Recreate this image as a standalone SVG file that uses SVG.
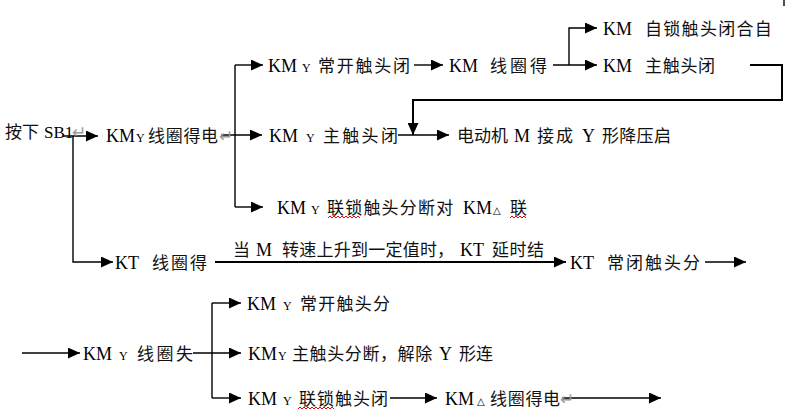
<svg xmlns="http://www.w3.org/2000/svg" width="792" height="420" viewBox="0 0 792 420">
<style>
.t{font-family:"Liberation Serif","Noto Sans CJK SC",serif;font-size:18px;fill:#000}
.c{font-family:"Noto Sans CJK SC",sans-serif;font-size:17px;fill:#111}
.s{font-size:12px}
.d{font-family:"DejaVu Sans",sans-serif;font-size:10px}
.p{font-family:"DejaVu Sans","Noto Sans CJK SC",sans-serif;font-size:17px;fill:#999}
.ln{stroke:#000;stroke-width:1.4;fill:none;marker-end:url(#ah)}
.lp{stroke:#000;stroke-width:1.4;fill:none}
.th{stroke-width:2}
.wv{stroke:#e00;stroke-width:1;fill:none}
</style>
<defs>
<marker id="ah" markerUnits="userSpaceOnUse" markerWidth="13" markerHeight="11" refX="12" refY="5.5" orient="auto"><path d="M0,0 L12,5.5 L0,11 z" fill="#000"/></marker>
</defs>
<rect width="792" height="420" fill="#fff"/>
<g id="connectors">
<path class="ln" d="M63,136 H98"/>
<path class="ln" d="M73,136 V262 H113"/>
<path class="ln" d="M221,135 H262"/>
<path class="lp" d="M235,65 V207"/>
<path class="ln" d="M235,65 H263"/>
<path class="ln" d="M235,207 H263"/>
<path class="ln" d="M414,65 H443"/>
<path class="ln" d="M553,65 H597"/>
<path class="ln" d="M569,65 V28 H597"/>
<path class="ln th" d="M750,65 H782 V100 H413 V135"/>
<path class="ln" d="M398,135 H449"/>
<path class="ln th" d="M215,262 H566"/>
<path class="ln" d="M705,262 H746"/>
<path class="ln" d="M22,353 H80"/>
<path class="ln" d="M193,353 H241"/>
<path class="lp" d="M212,303 V398"/>
<path class="ln" d="M212,303 H241"/>
<path class="ln" d="M212,398 H241"/>
<path class="ln" d="M390,398 H437"/>
<path class="ln" d="M562,398 H661"/>
<path class="lp" d="M784,0 V6"/>
</g>
<g id="n-sb1"><text class="t" y="138"><tspan x="5" class="c">按下</tspan><tspan x="44" style="font-size:17px">SB1</tspan><tspan x="72" class="p">↵</tspan></text></g>
<g id="n-kmy"><text class="t" y="142"><tspan x="106">KM</tspan><tspan x="136" class="s">Y</tspan><tspan x="148" class="c" letter-spacing="0.7">线圈得电</tspan><tspan x="219" class="p">↵</tspan></text></g>
<g id="n-kmy-no"><text class="t" y="72"><tspan x="268">KM</tspan><tspan x="302" class="s">Y</tspan><tspan x="318" class="c" letter-spacing="1.75">常开触头闭</tspan></text></g>
<g id="n-km-coil"><text class="t" y="72"><tspan x="449">KM</tspan><tspan x="490" class="c" letter-spacing="3">线圈得</tspan></text></g>
<g id="n-km-self"><text class="t" y="35"><tspan x="603">KM</tspan><tspan x="645" class="c" letter-spacing="1.3">自锁触头闭合自</tspan></text></g>
<g id="n-km-main"><text class="t" y="72"><tspan x="603">KM</tspan><tspan x="645" class="c" letter-spacing="0.7">主触头闭</tspan></text></g>
<g id="n-kmy-main"><text class="t" y="142"><tspan x="269">KM</tspan><tspan x="306" class="s">Y</tspan><tspan x="323" class="c" letter-spacing="2.3">主触头闭</tspan></text></g>
<g id="n-motor"><text class="t" y="142"><tspan x="457" class="c">电动机</tspan><tspan x="514">M</tspan><tspan x="537" class="c" letter-spacing="2">接成</tspan><tspan x="582">Y</tspan><tspan x="602" class="c" letter-spacing="0.3">形降压启</tspan></text></g>
<g id="n-kmy-lock"><text class="t" y="214"><tspan x="277">KM</tspan><tspan x="311" class="s">Y</tspan><tspan x="327" class="c" letter-spacing="1.2">联锁触头分断对</tspan><tspan x="463">KM</tspan><tspan x="493" class="d">△</tspan><tspan x="510" class="c">联</tspan></text>
<path class="wv" d="M328,218 l2,-2 l2,2 l2,-2 l2,2 l2,-2 l2,2 l2,-2 l2,2 l2,-2 l2,2 l2,-2 l2,2 l2,-2 l2,2 l2,-2 l2,2"/>
<path class="wv" d="M510,218 l2,-2 l2,2 l2,-2 l2,2 l2,-2 l2,2 l2,-2 l2,2"/></g>
<g id="n-kt"><text class="t" y="269"><tspan x="115">KT</tspan><tspan x="152" class="c" letter-spacing="2">线圈得</tspan></text></g>
<g id="lbl-kt"><text class="t" y="256"><tspan x="233" class="c">当</tspan><tspan x="256">M</tspan><tspan x="282" class="c" letter-spacing="0.25">转速上升到一定值时</tspan><tspan x="437" class="c">，</tspan><tspan x="460">KT</tspan><tspan x="492" class="c" letter-spacing="0.5">延时结</tspan></text></g>
<g id="n-kt-nc"><text class="t" y="269"><tspan x="570">KT</tspan><tspan x="607" class="c" letter-spacing="2">常闭触头分</tspan></text></g>
<g id="n-kmy-no2"><text class="t" y="310"><tspan x="247">KM</tspan><tspan x="283" class="s">Y</tspan><tspan x="300" class="c" letter-spacing="1.25">常开触头分</tspan></text></g>
<g id="n-kmy-off"><text class="t" y="360"><tspan x="83">KM</tspan><tspan x="119" class="s">Y</tspan><tspan x="137" class="c" letter-spacing="2.5">线圈失</tspan></text></g>
<g id="n-kmy-main2"><text class="t" y="360"><tspan x="248">KM</tspan><tspan x="278" class="s">Y</tspan><tspan x="292" class="c" letter-spacing="0.6">主触头分断，解除</tspan><tspan x="439">Y</tspan><tspan x="459" class="c">形连</tspan></text></g>
<g id="n-kmy-lock2"><text class="t" y="405"><tspan x="248">KM</tspan><tspan x="283" class="s">Y</tspan><tspan x="299" class="c" letter-spacing="1">联锁触头闭</tspan></text>
<path class="wv" d="M298,409 l2,-2 l2,2 l2,-2 l2,2 l2,-2 l2,2 l2,-2 l2,2 l2,-2 l2,2 l2,-2 l2,2 l2,-2 l2,2 l2,-2 l2,2 l2,-2 l2,2"/></g>
<g id="n-kmd"><text class="t" y="405"><tspan x="445">KM</tspan><tspan x="477" class="d">△</tspan><tspan x="490" class="c" letter-spacing="0.7">线圈得电</tspan><tspan x="560" class="p">↵</tspan></text></g>
</svg>
